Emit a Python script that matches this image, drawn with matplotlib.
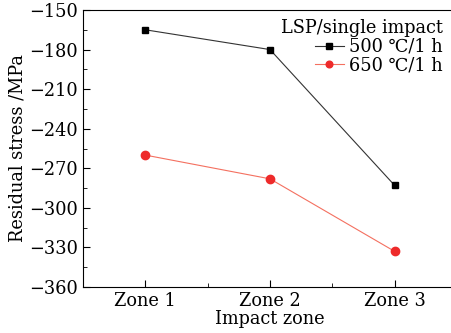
import numpy as np
import matplotlib.pyplot as plt
from matplotlib.ticker import MultipleLocator

plt.rcParams['font.family'] = ['DejaVu Serif']

zones = ['Zone 1', 'Zone 2', 'Zone 3']
stress_500 = [-165, -180, -283]
stress_650 = [-260, -278, -333]
legend_title = 'LSP/single impact'
labels = ['500 \u2103/1 h', '650 \u2103/1 h']

x = np.arange(1, len(zones) + 1)
fs = 12.8

fig = plt.figure(figsize=(4.52, 3.33), dpi=100)
ax = fig.add_axes([83 / 452, 1 - 287 / 333, 374 / 452, 277 / 333])

ax.plot(x, stress_500, color='#333333', lw=0.8, marker='s', ms=5,
        mfc='black', mec='black', label=labels[0])
ax.plot(x, stress_650, color='#f47060', lw=0.8, marker='o', ms=6,
        mfc='#ee2a2a', mec='#ee2a2a', label=labels[1])

ax.set_xlim(0.5, 3.5)
ax.set_ylim(-360, -150)
ax.set_xticks(x)
ax.set_xticklabels(zones)
ax.xaxis.set_minor_locator(MultipleLocator(0.5))
ax.yaxis.set_major_locator(MultipleLocator(30))
ax.yaxis.set_minor_locator(MultipleLocator(15))
ax.tick_params(which='both', direction='in', labelsize=fs)
ax.tick_params(which='major', length=5)
ax.tick_params(which='minor', length=3)
ax.set_yticklabels(['\u2212%d' % abs(v) for v in ax.get_yticks()])
ax.spines['right'].set_visible(False)

ax.set_xlabel('Impact zone', fontsize=fs, labelpad=0)
ax.set_ylabel('Residual stress /MPa', fontsize=fs, labelpad=2)

leg = ax.legend(title=legend_title, loc='upper right', frameon=False,
                fontsize=fs, title_fontsize=fs, handlelength=1.6,
                handletextpad=0.3, borderaxespad=0.1, labelspacing=0.05,
                markerscale=0.8, bbox_to_anchor=(0.985, 1.0))
leg._legend_box.align = 'right'

fig.savefig('out.png', dpi=100)
